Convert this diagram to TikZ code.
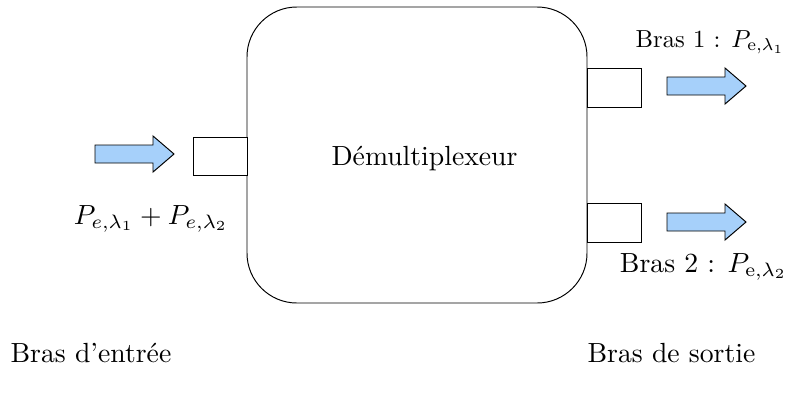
\documentclass[tikz,border=0pt]{standalone}
\usetikzlibrary{calc}
\definecolor{arrowblue}{RGB}{166,208,250}
\tikzset{
  boxline/.style={draw=black, line width=0.35pt},
  portbox/.style={boxline, fill=white},
  fleche/.style={draw=black, line width=0.35pt, fill=arrowblue},
  lbl/.style={inner sep=0pt, font=\normalsize}
}
\newcommand{\mafleche}[2]{%
  \filldraw[fleche] (#1,#2-9) -- (#1+58,#2-9) -- (#1+58,#2-18) -- (#1+79,#2)
    -- (#1+58,#2+18) -- (#1+58,#2+9) -- (#1,#2+9) -- cycle;}
\begin{document}
\begin{tikzpicture}[x=0.361pt, y=-0.361pt]
\useasboundingbox (0,0) rectangle (789,395);
% main block
\draw[boxline, rounded corners=18pt] (247,7) rectangle (587,303);
\node[lbl, anchor=base] (demux) at (424.5,165) {Démultiplexeur};
% ports
\draw[portbox] (193,137) rectangle (247,175);
\draw[portbox] (587,68) rectangle (641,107);
\draw[portbox] (587,203) rectangle (641,242);
% arrows
\mafleche{95}{154}
\mafleche{667}{86}
\mafleche{667}{222}
% labels
\node[lbl, anchor=base] (pin) at (151,224) {$P_{e,\lambda_1}+P_{e,\lambda_2}$};
\node[lbl, anchor=base east] (b1) at (785,47) {\scalebox{0.89}{Bras 1 : $P_{\mathrm{e},\lambda_1}$}};
\node[lbl, anchor=base] (b2) at (703.5,272) {Bras 2 : $P_{\mathrm{e},\lambda_2}$};
\node[lbl, anchor=base west] (be) at (10,362) {Bras d'entrée};
\node[lbl, anchor=base west] (bs) at (587,362) {Bras de sortie};
\end{tikzpicture}
\end{document}
